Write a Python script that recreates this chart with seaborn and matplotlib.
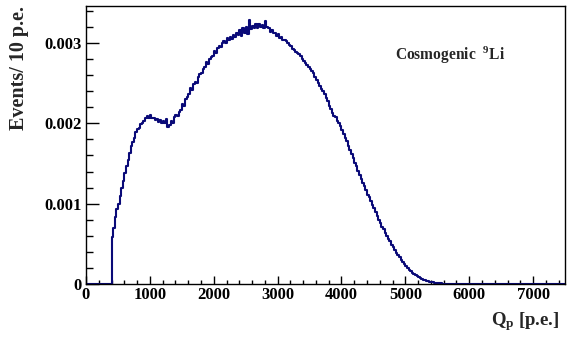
import numpy as np
import pandas as pd
import matplotlib
matplotlib.use("Agg")
import matplotlib.pyplot as plt
from matplotlib.ticker import MultipleLocator
import seaborn as sns

# Histogram (Events / 10 p.e.), 25 p.e. wide bins
bin_width = 25
q_min, q_max = 0, 7500
first_filled = 400      # first non-empty bin edge
counts = [
    # 400 - 575
    0.00058, 0.00070, 0.00084, 0.00093, 0.00100, 0.00110, 0.00120, 0.00128,
    # 600 - 775
    0.00138, 0.00147, 0.00154, 0.00163, 0.00172, 0.00177, 0.00182, 0.00189,
    # 800 - 975
    0.00193, 0.00194, 0.00199, 0.00200, 0.00203, 0.00206, 0.00209, 0.00207,
    # 1000 - 1175
    0.00210, 0.00206, 0.00207, 0.00204, 0.00205, 0.00202, 0.00204, 0.00200,
    # 1200 - 1375
    0.00203, 0.00201, 0.00205, 0.00196, 0.00198, 0.00203, 0.00200, 0.00208,
    # 1400 - 1575
    0.00210, 0.00209, 0.00214, 0.00217, 0.00224, 0.00222, 0.00230, 0.00233,
    # 1600 - 1775
    0.00236, 0.00244, 0.00242, 0.00249, 0.00252, 0.00250, 0.00258, 0.00261,
    # 1800 - 1975
    0.00262, 0.00268, 0.00270, 0.00276, 0.00274, 0.00280, 0.00282, 0.00284,
    # 2000 - 2175
    0.00290, 0.00288, 0.00294, 0.00296, 0.00295, 0.00300, 0.00303, 0.00300,
    # 2200 - 2375
    0.00306, 0.00304, 0.00308, 0.00305, 0.00310, 0.00307, 0.00313, 0.00310,
    # 2400 - 2575
    0.00316, 0.00309, 0.00318, 0.00313, 0.00320, 0.00311, 0.00328, 0.00317,
    # 2600 - 2775
    0.00321, 0.00318, 0.00323, 0.00319, 0.00324, 0.00320, 0.00322, 0.00318,
    # 2800 - 2975
    0.00327, 0.00320, 0.00318, 0.00314, 0.00316, 0.00312, 0.00313, 0.00309,
    # 3000 - 3175
    0.00311, 0.00306, 0.00308, 0.00304, 0.00304, 0.00302, 0.00300, 0.00298,
    # 3200 - 3375
    0.00296, 0.00292, 0.00291, 0.00289, 0.00288, 0.00286, 0.00284, 0.00280,
    # 3400 - 3575
    0.00277, 0.00275, 0.00273, 0.00270, 0.00268, 0.00265, 0.00262, 0.00258,
    # 3600 - 3775
    0.00254, 0.00250, 0.00247, 0.00243, 0.00240, 0.00236, 0.00232, 0.00228,
    # 3800 - 3975
    0.00221, 0.00218, 0.00213, 0.00209, 0.00208, 0.00203, 0.00200, 0.00197,
    # 4000 - 4175
    0.00192, 0.00187, 0.00182, 0.00178, 0.00172, 0.00167, 0.00162, 0.00157,
    # 4200 - 4375
    0.00151, 0.00147, 0.00141, 0.00136, 0.00131, 0.00126, 0.00122, 0.00117,
    # 4400 - 4575
    0.00111, 0.00108, 0.00103, 0.00098, 0.00094, 0.00089, 0.00085, 0.00080,
    # 4600 - 4775
    0.00076, 0.00071, 0.00068, 0.00064, 0.00060, 0.00056, 0.00053, 0.00049,
    # 4800 - 4975
    0.00046, 0.00042, 0.00039, 0.00036, 0.00033, 0.00030, 0.00028, 0.00025,
    # 5000 - 5175
    0.00023, 0.00020, 0.00018, 0.00016, 0.00014, 0.00012, 0.00011, 0.000095,
    # 5200 - 5375
    0.000085, 0.000072, 0.000063, 0.000055, 0.000047, 0.000040, 0.000034, 0.000029,
    # 5400 - 5575
    0.000025, 0.000021, 0.000018, 0.000015, 0.000012, 0.000010, 0.000008, 0.000006,
    # 5600 - 5775
    0.000005, 0.000004, 0.000003, 0.000002, 0.000001, 0.000001, 0.0, 0.0,
]

x_ticks = [0, 1000, 2000, 3000, 4000, 5000, 6000, 7000]
y_ticks = [0, 0.001, 0.002, 0.003]
y_tick_labels = ["0", "0.001", "0.002", "0.003"]

edges = np.arange(q_min, q_max + bin_width, bin_width)
weights = np.zeros(len(edges) - 1)
i0 = (first_filled - q_min) // bin_width
weights[i0:i0 + len(counts)] = counts
df = pd.DataFrame({"Qp": edges[:-1] + bin_width / 2, "w": weights})

sns.set_style("ticks")
plt.rcParams["font.family"] = ["Liberation Serif", "DejaVu Serif"]
plt.rcParams["font.weight"] = "bold"
plt.rcParams["mathtext.fontset"] = "custom"
plt.rcParams["mathtext.rm"] = "Liberation Serif:bold"
plt.rcParams["mathtext.bf"] = "Liberation Serif:bold"
plt.rcParams["mathtext.it"] = "Liberation Serif:bold"

fig = plt.figure(figsize=(5.69, 3.40), dpi=100)
ax = fig.add_axes([86 / 569, 1 - 284 / 340, 479 / 569, 278 / 340])

sns.histplot(data=df, x="Qp", weights="w", binwidth=bin_width,
             binrange=(q_min, q_max), element="step",
             fill=False, color="#0a0a78", linewidth=1.5, ax=ax)

ax.set_xlim(q_min, q_max)
ax.set_ylim(0, 0.00346)
ax.set_xticks(x_ticks)
ax.set_yticks(y_ticks)
ax.set_yticklabels(y_tick_labels)
ax.xaxis.set_minor_locator(MultipleLocator(200))
ax.yaxis.set_minor_locator(MultipleLocator(0.0002))
ax.tick_params(axis="both", which="both", direction="in", top=False, right=False,
               labelsize=12, colors="black", width=1)
ax.tick_params(axis="y", which="major", length=9.5, pad=3)
ax.tick_params(axis="y", which="minor", length=5)
ax.tick_params(axis="x", which="major", length=6, pad=2)
ax.tick_params(axis="x", which="minor", length=3)
for lbl in ax.get_xticklabels() + ax.get_yticklabels():
    lbl.set_fontweight("bold")
for s in ax.spines.values():
    s.set_linewidth(1)
    s.set_color("black")

ax.set_ylabel("Events/ 10 p.e.", fontsize=14.5, fontweight="bold", loc="top")
ax.yaxis.set_label_coords(-0.12, 1.0)
ax.set_xlabel(r"$\mathbf{Q_{p}}$ [p.e.]", fontsize=13.5, fontweight="bold",
              loc="right", va="baseline")
ax.xaxis.set_label_coords(0.9875, -0.1475)

ax.text(0.645, 0.806, r"Cosmogenic  $^{9}$Li", transform=ax.transAxes,
        fontsize=11.2, fontweight="bold", ha="left", va="baseline")

fig.savefig("out.png", dpi=100)
